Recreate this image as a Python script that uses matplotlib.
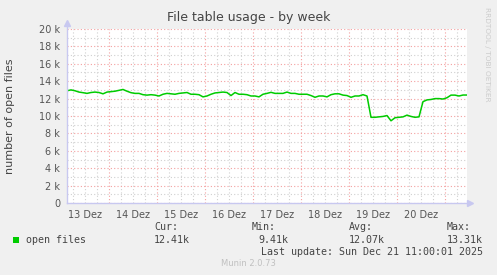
import numpy as np
import matplotlib
matplotlib.use("Agg")
import matplotlib.pyplot as plt
from matplotlib.patches import Rectangle

# open files, one sample every 2 hours, from Dec 13 03:00 to Dec 21 11:00 (values in k)
open_files = [
    12.90, 13.00, 12.90, 12.75, 12.68, 12.60, 12.70, 12.75, 12.70, 12.55,
    12.75, 12.80, 12.85, 12.95, 13.05, 12.85, 12.68, 12.60, 12.60, 12.45,
    12.40, 12.45, 12.40, 12.30, 12.50,
    12.60, 12.55, 12.50, 12.60, 12.65, 12.70, 12.50, 12.50, 12.45, 12.20,
    12.30, 12.50, 12.65, 12.70, 12.75, 12.70, 12.35, 12.70, 12.50, 12.50,
    12.45, 12.30, 12.30, 12.20, 12.50,
    12.60, 12.72, 12.60, 12.60, 12.60, 12.75, 12.60, 12.60, 12.50, 12.50,
    12.50, 12.35, 12.15, 12.30, 12.30, 12.20, 12.45, 12.55, 12.55, 12.40,
    12.35, 12.15, 12.30, 12.30, 12.45,
    12.30, 9.85, 9.85, 9.90, 9.95, 10.05, 9.45, 9.80, 9.85, 9.90,
    10.10, 9.95, 9.85, 9.90, 11.65, 11.85, 11.90, 12.00, 12.00, 11.95,
    12.10, 12.40, 12.40, 12.30, 12.41,
]
day_labels = ["13 Dez", "14 Dez", "15 Dez", "16 Dez", "17 Dez", "18 Dez", "19 Dez", "20 Dez"]
y_ticks = [0, 2, 4, 6, 8, 10, 12, 14, 16, 18, 20]
legend_name = "open files"
cur, vmin, avg, vmax = "12.41k", "9.41k", "12.07k", "13.31k"
last_update = "Last update: Sun Dec 21 11:00:01 2025"

t_start = 3 / 24.0            # days since Dec 13 00:00
t_end = 8 + 11 / 24.0
step = 2 / 24.0

W, H = 497, 275
fig = plt.figure(figsize=(W / 100, H / 100), dpi=100)
fig.patch.set_facecolor("#F0F0F0")

def fx(x):
    return x / W

def fy(y):
    return 1 - y / H

ax = fig.add_axes([fx(67), fy(203), 400 / W, 174 / H])
ax.set_facecolor("white")
for s in ax.spines.values():
    s.set_visible(False)

ax.set_xlim(t_start, t_end)
ax.set_ylim(0, 20)

# grid
dot = (0, (1, 2))
for v in range(0, 21):
    if v % 2 == 0:
        ax.axhline(v, color="#F4A0A0", lw=0.8, ls=dot, zorder=1)
    else:
        ax.axhline(v, color="#D0D0D0", lw=0.8, ls=dot, zorder=0)
for q in np.arange(0, 9, 0.25):
    if t_start < q < t_end:
        if abs(q - round(q)) < 1e-9:
            ax.axvline(q, color="#F4A0A0", lw=0.8, ls=dot, zorder=1)
        else:
            ax.axvline(q, color="#D0D0D0", lw=0.8, ls=dot, zorder=0)

# data
t = t_start + step * np.arange(len(open_files))
tt = np.append(t, t_end)
vv = np.append(open_files, open_files[-1])
ax.plot(tt, vv, color="#00CC00", lw=1.1, zorder=3)

# axes lines with arrows
ax.plot([t_start, t_start], [0, 20.6], color="#C8C8F0", lw=1, clip_on=False, zorder=4)
ax.plot([t_start, t_end + 0.05], [0, 0], color="#C8C8F0", lw=1, clip_on=False, zorder=4)
ax.plot([t_start], [20.7], marker="^", color="#C8C8F0", ms=4, clip_on=False)
ax.plot([t_end + 0.06], [0], marker=">", color="#C8C8F0", ms=4, clip_on=False)

ax.set_yticks(y_ticks)
ax.set_yticklabels([f"{v} k" if v else "0" for v in y_ticks])
ax.set_xticks(np.arange(len(day_labels)) + 0.5)
ax.set_xticklabels(day_labels)
ax.tick_params(length=0, labelsize=7, colors="#555555", pad=5)

mono = "DejaVu Sans Mono"
fig.text(fx(249), fy(18), "File table usage - by week", ha="center", va="center",
         fontsize=9, color="#444444")
fig.text(fx(10), fy(116), "number of open files", rotation=90, ha="center", va="center",
         fontsize=8, color="#444444")
fig.text(fx(487), fy(54), "RRDTOOL / TOBI OETIKER", rotation=270, ha="center", va="center",
         fontsize=5.3, color="#CCCCCC")

fig.patches.append(Rectangle((fx(13), fy(243)), 6 / W, 6 / H, transform=fig.transFigure,
                             facecolor="#00CC00", edgecolor="none"))
fs = 7.2
tc = "#444444"
fig.text(fx(26), fy(240), legend_name, fontsize=fs, family=mono, color=tc, va="center")
for x0, head, val, xv in [(154, "Cur:", cur, 154), (252, "Min:", vmin, 258),
                          (349, "Avg:", avg, 349), (447, "Max:", vmax, 447)]:
    fig.text(fx(x0), fy(227), head, fontsize=fs, family=mono, color=tc, va="center")
    fig.text(fx(xv), fy(240), val, fontsize=fs, family=mono, color=tc, va="center")
fig.text(fx(483), fy(252), last_update, fontsize=fs, family=mono, color=tc,
         va="center", ha="right")
fig.text(fx(248), fy(263), "Munin 2.0.73", fontsize=6, color="#C0C0C0", ha="center", va="center")

fig.savefig("out.png", dpi=100, facecolor=fig.get_facecolor())
